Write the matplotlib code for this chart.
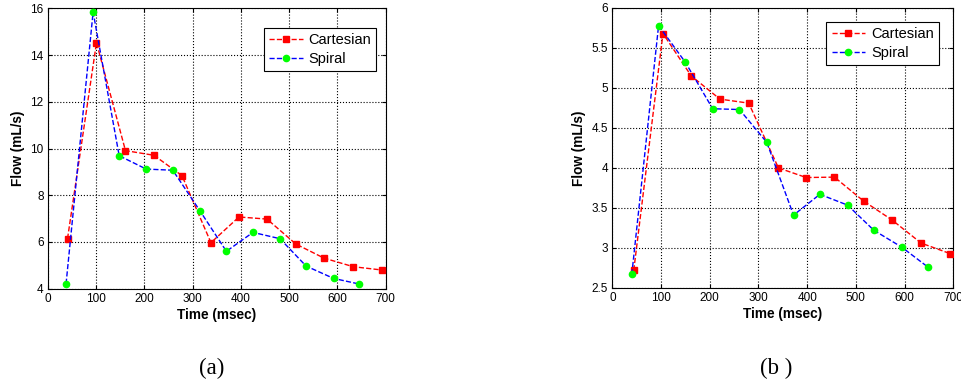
import matplotlib
matplotlib.use("Agg")
import matplotlib.pyplot as plt

# ── Panel (a) ────────────────────────────────────────────────────────────────
a_cart_t = [41, 101, 161, 220, 278, 338, 396, 454, 514, 572, 633, 692]
a_cart_f = [6.14, 14.53, 9.91, 9.71, 8.84, 5.97, 7.07, 6.98, 5.91, 5.31, 4.94, 4.80]
a_spir_t = [38, 94, 148, 204, 259, 315, 370, 425, 481, 535, 592, 645]
a_spir_f = [4.21, 15.84, 9.69, 9.12, 9.07, 7.34, 5.60, 6.41, 6.14, 4.97, 4.44, 4.20]

# ── Panel (b) ────────────────────────────────────────────────────────────────
b_cart_t = [44, 104, 162, 221, 280, 341, 398, 456, 516, 574, 634, 693]
b_cart_f = [2.72, 5.68, 5.15, 4.86, 4.81, 4.00, 3.88, 3.885, 3.585, 3.35, 3.06, 2.93]
b_spir_t = [40, 95, 150, 206, 261, 317, 372, 426, 483, 537, 594, 648]
b_spir_f = [2.67, 5.78, 5.32, 4.74, 4.73, 4.32, 3.41, 3.67, 3.535, 3.22, 3.01, 2.76]

fig = plt.figure(figsize=(9.62, 3.87), dpi=100)
fig.patch.set_facecolor("white")

SANS = ["Liberation Sans", "DejaVu Sans"]
SERIF = ["Liberation Serif", "DejaVu Serif"]


def panel(ax, ct, cf, st, sf, ylim, yticks, legend_anchor):
    ax.plot(ct, cf, color="red", ls="--", lw=1.0, marker="s", ms=5,
            mfc="red", mec="red", label="Cartesian", zorder=3)
    ax.plot(st, sf, color="blue", ls="--", lw=1.0, marker="o", ms=4.5,
            mfc="#00ff00", mec="#00ff00", label="Spiral", zorder=4)
    ax.set_xlim(0, 700)
    ax.set_ylim(*ylim)
    ax.set_xticks(range(0, 701, 100))
    ax.set_yticks(yticks)
    ax.set_yticklabels([f"{v:g}" for v in yticks])
    ax.grid(True, color="black", ls=":", lw=0.8)
    ax.tick_params(direction="in", top=True, right=True, labelsize=8.5,
                   length=3, pad=3)
    for lab in ax.get_xticklabels() + ax.get_yticklabels():
        lab.set_family(SANS)
    for sp in ax.spines.values():
        sp.set_color("black")
        sp.set_linewidth(0.8)
    ax.set_xlabel("Time (msec)", fontsize=9.8, fontweight="bold",
                  family=SANS, labelpad=2)
    ax.set_ylabel("Flow (mL/s)", fontsize=9.8, fontweight="bold",
                  family=SANS, labelpad=4)
    leg = ax.legend(loc="upper right", bbox_to_anchor=legend_anchor,
                    prop={"family": SANS, "size": 10.5}, fancybox=False,
                    edgecolor="black", framealpha=1, handlelength=2.3,
                    handletextpad=0.4, borderpad=0.35, labelspacing=0.35,
                    borderaxespad=0.3)
    leg.get_frame().set_linewidth(0.8)


ax_a = fig.add_axes([0.0496, 0.254, 0.3514, 0.7245])
panel(ax_a, a_cart_t, a_cart_f, a_spir_t, a_spir_f, (4, 16),
      [4, 6, 8, 10, 12, 14, 16], (0.985, 0.945))

ax_b = fig.add_axes([0.6365, 0.256, 0.3545, 0.7235])
panel(ax_b, b_cart_t, b_cart_f, b_spir_t, b_spir_f, (2.5, 6),
      [2.5, 3, 3.5, 4, 4.5, 5, 5.5, 6], (0.97, 0.965))

fig.text(212 / 962, 1 - 368 / 387, "(a)", fontsize=16.5, family=SERIF,
         ha="center", va="center")
fig.text(776 / 962, 1 - 368 / 387, "(b )", fontsize=16.5, family=SERIF,
         ha="center", va="center")

fig.savefig("out.png", dpi=100, facecolor="white")
